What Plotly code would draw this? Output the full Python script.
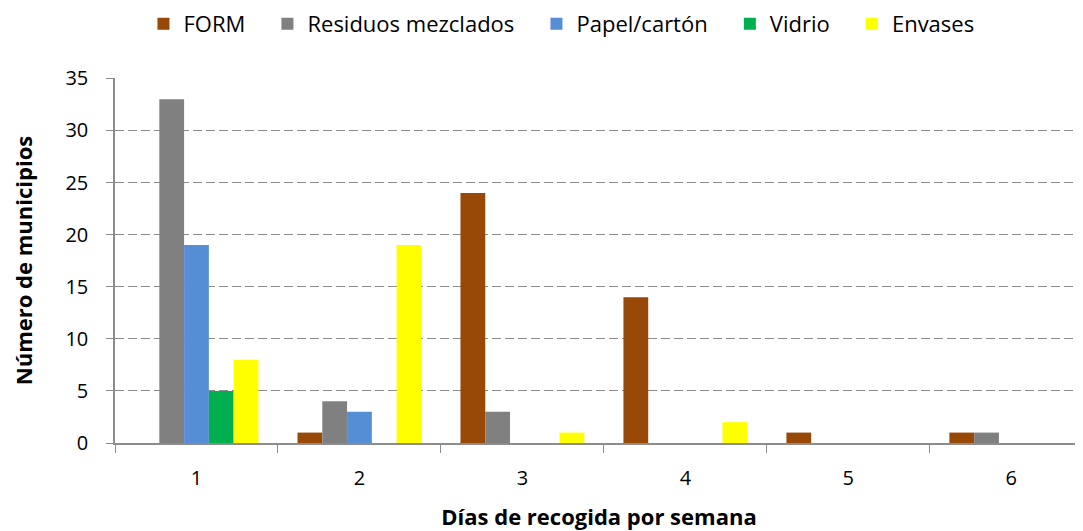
import plotly.graph_objects as go

dias = ["1", "2", "3", "4", "5", "6"]
form = [0, 1, 24, 14, 1, 1]
residuos = [33, 4, 3, 0, 0, 1]
papel = [19, 3, 0, 0, 0, 0]
vidrio = [5, 0, 0, 0, 0, 0]
envases = [8, 19, 1, 2, 0, 0]

series = [
    ("FORM", form, "#984807"),
    ("Residuos mezclados", residuos, "#808080"),
    ("Papel/cartón", papel, "#558ED5"),
    ("Vidrio", vidrio, "#00B050"),
    ("Envases", envases, "#FFFF00"),
]

pad = "\u00a0" * 3  # extra room between legend entries

fig = go.Figure()
for name, vals, color in series:
    fig.add_trace(go.Bar(x=dias, y=vals, name=name + pad, marker_color=color, marker_line_width=0))

# page has an 8px body margin, so the figure is 8px smaller than the window
fig.update_layout(
    width=1075, height=523,
    barmode="group", bargap=0.24, bargroupgap=0,
    plot_bgcolor="white", paper_bgcolor="white",
    font=dict(family="Open Sans", size=20, color="#000000"),
    margin=dict(l=107, r=0, t=70, b=88, autoexpand=False),
    legend=dict(orientation="h", x=0.47, xanchor="center", y=1.148, yanchor="middle",
                font=dict(size=22), tracegroupgap=0),
)
fig.update_xaxes(
    type="category", range=[-0.5, 5.44], tickson="boundaries",
    ticks="outside", ticklen=8, tickcolor="#8c8c8c",
    showline=True, linecolor="#8c8c8c", linewidth=1.5,
    ticklabelstandoff=16, automargin=False,
    title=dict(text="<b>Días de recogida por semana</b>", font=dict(size=22), standoff=20),
)
fig.update_yaxes(
    range=[0, 35.03], dtick=5, ticks="outside", ticklen=7, tickcolor="#8c8c8c",
    showline=True, linecolor="#8c8c8c", linewidth=1.5,
    showgrid=True, gridcolor="#8c8c8c", griddash="9px,4px", gridwidth=1.2,
    zeroline=False, automargin=False, ticklabelstandoff=14,
    title=dict(text="<b>Número de municipios</b>", font=dict(size=22), standoff=36),
)

fig.write_html("out.html")
